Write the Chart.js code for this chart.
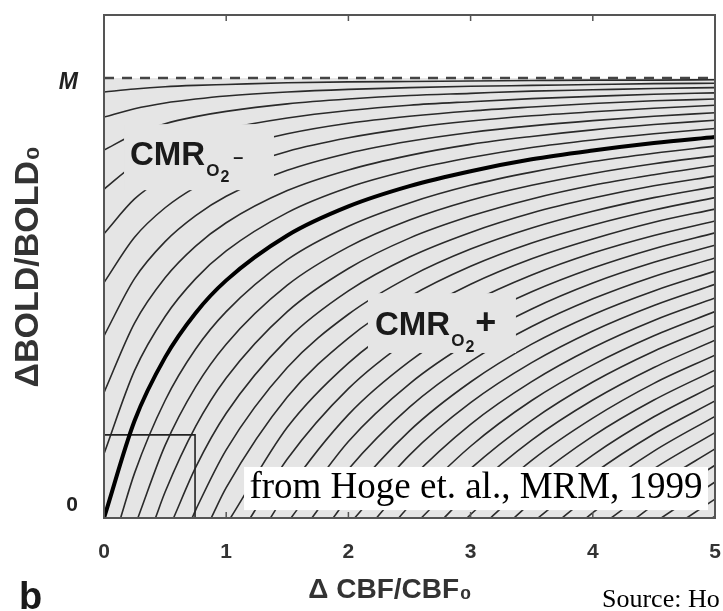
<!DOCTYPE html>
<html>
<head>
<meta charset="utf-8">
<script src="https://cdn.jsdelivr.net/npm/chart.js@4.4.1/dist/chart.umd.min.js"></script>
<style>
html,body{margin:0;padding:0;background:#fff;overflow:hidden}
canvas{display:block}
</style>
</head>
<body>
<canvas id="c" width="723" height="611"></canvas>
<script>
// x positions (ΔCBF/CBF0) at which the contours were read
const xGrid = [0, 0.25, 0.5, 0.75, 1, 1.5, 2, 2.5, 3, 3.5, 4, 4.5, 5];

// iso-CMRO2 contours above the thick line (CMRO2 decrease), ΔBOLD/BOLD0 in units of M
const cmro010 = [0.968, 0.975, 0.980, 0.983, 0.985, 0.989, 0.991, 0.992, 0.993, 0.994, 0.995, 0.995, 0.996];
const cmro020 = [0.911, 0.930, 0.943, 0.952, 0.959, 0.968, 0.974, 0.978, 0.981, 0.983, 0.985, 0.987, 0.988];
const cmro030 = [0.836, 0.872, 0.896, 0.912, 0.924, 0.941, 0.952, 0.960, 0.965, 0.970, 0.973, 0.976, 0.978];
const cmro040 = [0.747, 0.803, 0.839, 0.865, 0.884, 0.909, 0.926, 0.938, 0.946, 0.953, 0.958, 0.963, 0.966];
const cmro050 = [0.646, 0.725, 0.775, 0.811, 0.837, 0.873, 0.897, 0.913, 0.925, 0.934, 0.942, 0.948, 0.952];
const cmro060 = [0.535, 0.638, 0.705, 0.752, 0.786, 0.833, 0.864, 0.886, 0.902, 0.914, 0.923, 0.931, 0.938];
const cmro070 = [0.414, 0.544, 0.628, 0.687, 0.731, 0.790, 0.829, 0.856, 0.876, 0.891, 0.903, 0.913, 0.921];
const cmro080 = [0.285, 0.443, 0.546, 0.618, 0.671, 0.744, 0.791, 0.824, 0.849, 0.867, 0.882, 0.894, 0.904];
const cmro090 = [0.146, 0.335, 0.458, 0.544, 0.607, 0.694, 0.751, 0.790, 0.819, 0.842, 0.859, 0.873, 0.885];

// thick line: constant CMRO2
const cmro100 = [0, 0.221, 0.365, 0.466, 0.540, 0.642, 0.708, 0.754, 0.788, 0.815, 0.835, 0.852, 0.866];

// iso-CMRO2 contours below the thick line (CMRO2 increase):
// where each leaves the zero line, then its values at the xGrid points beyond that
const risingStarts = [0.136, 0.277, 0.421, 0.569, 0.721, 0.877, 1.035, 1.197, 1.362, 1.530,
                      1.701, 1.875, 2.051, 2.230, 2.412, 2.596, 2.782, 2.971, 3.162, 3.355,
                      3.551, 3.748, 3.948, 4.150, 4.354, 4.560, 4.768, 4.977];
const cmro110 = [0.102, 0.267, 0.384, 0.469, 0.587, 0.663, 0.716, 0.756, 0.786, 0.810, 0.829, 0.845];
const cmro120 = [0.165, 0.298, 0.395, 0.529, 0.616, 0.677, 0.722, 0.756, 0.783, 0.805, 0.823];
const cmro130 = [0.059, 0.208, 0.318, 0.469, 0.567, 0.636, 0.686, 0.725, 0.756, 0.780, 0.801];
const cmro140 = [0.115, 0.238, 0.406, 0.516, 0.593, 0.649, 0.693, 0.727, 0.755, 0.777];
const cmro150 = [0.018, 0.155, 0.342, 0.463, 0.548, 0.611, 0.659, 0.697, 0.728, 0.753];
const cmro160 = [0.069, 0.275, 0.409, 0.503, 0.572, 0.625, 0.666, 0.700, 0.728];
const cmro170 = [0.206, 0.352, 0.455, 0.531, 0.589, 0.634, 0.672, 0.702];
const cmro180 = [0.134, 0.294, 0.406, 0.489, 0.552, 0.602, 0.642, 0.675];
const cmro190 = [0.061, 0.235, 0.356, 0.446, 0.514, 0.568, 0.612, 0.648];
const cmro200 = [0.174, 0.305, 0.401, 0.475, 0.534, 0.581, 0.620];
const cmro210 = [0.111, 0.252, 0.356, 0.435, 0.498, 0.549, 0.591];
const cmro220 = [0.047, 0.198, 0.309, 0.395, 0.462, 0.516, 0.561];
const cmro230 = [0.143, 0.262, 0.353, 0.425, 0.483, 0.531];
const cmro240 = [0.086, 0.213, 0.310, 0.387, 0.449, 0.500];
const cmro250 = [0.028, 0.163, 0.267, 0.348, 0.414, 0.469];
const cmro260 = [0.112, 0.222, 0.309, 0.379, 0.437];
const cmro270 = [0.061, 0.177, 0.268, 0.342, 0.404];
const cmro280 = [0.008, 0.131, 0.227, 0.306, 0.370];
const cmro290 = [0.084, 0.186, 0.268, 0.336];
const cmro300 = [0.036, 0.143, 0.230, 0.302];
const cmro310 = [0.100, 0.191, 0.266];
const cmro320 = [0.056, 0.152, 0.231];
const cmro330 = [0.012, 0.112, 0.194];
const cmro340 = [0.071, 0.157];
const cmro350 = [0.030, 0.120];
const cmro360 = [0.082];
const cmro370 = [0.043];
const cmro380 = [0.004];

const mValue = 1;                       // dashed asymptote M
const zoomBoxX = [0, 0.745, 0.745];     // small inset rectangle
const zoomBoxY = [0.189, 0.189, 0];
const xTicks = [0, 1, 2, 3, 4, 5];
const yTickValues = [0.03, 0.99];
const yTickLabels = ['0', 'M'];

const fallingCurves = [cmro010, cmro020, cmro030, cmro040, cmro050, cmro060, cmro070, cmro080, cmro090];
const risingCurves = [cmro110, cmro120, cmro130, cmro140, cmro150, cmro160, cmro170, cmro180, cmro190, cmro200,
                      cmro210, cmro220, cmro230, cmro240, cmro250, cmro260, cmro270, cmro280, cmro290, cmro300,
                      cmro310, cmro320, cmro330, cmro340, cmro350, cmro360, cmro370, cmro380];

const SANS = '"Liberation Sans", Arial, Helvetica, sans-serif';
const SERIF = '"Liberation Serif", "Times New Roman", serif';
const LINE = '#2a2a2a';

const datasets = [];
datasets.push({
  label: 'M',
  data: [{x: xGrid[0], y: mValue}, {x: xGrid[xGrid.length - 1], y: mValue}],
  borderColor: '#444', borderWidth: 2.5, borderDash: [10, 8],
  fill: 'origin', backgroundColor: '#e5e5e5',
  cubicInterpolationMode: 'default', tension: 0, order: 0
});
datasets.push({
  label: 'CMRO2 constant',
  data: xGrid.map((x, i) => ({x, y: cmro100[i]})),
  borderColor: '#000', borderWidth: 4, fill: false, order: 0
});
fallingCurves.forEach((arr, k) => {
  datasets.push({
    label: 'CMRO2 ' + ((k + 1) / 10).toFixed(1),
    data: xGrid.map((x, i) => ({x, y: arr[i]})),
    borderColor: LINE, borderWidth: 1.6, fill: false, order: 2
  });
});
risingCurves.forEach((arr, k) => {
  const x0 = risingStarts[k];
  const xs = xGrid.filter(x => x > x0);
  datasets.push({
    label: 'CMRO2 ' + ((k + 11) / 10).toFixed(1),
    data: [{x: x0, y: 0}].concat(arr.map((y, i) => ({x: xs[i], y}))),
    borderColor: LINE, borderWidth: 1.6, fill: false, order: 2
  });
});
datasets.push({
  label: 'inset',
  data: zoomBoxX.map((x, i) => ({x, y: zoomBoxY[i]})),
  borderColor: '#222', borderWidth: 1.6, fill: false,
  cubicInterpolationMode: 'default', tension: 0, order: 1
});

function cmroLabel(ctx, x, y, sign) {
  ctx.fillStyle = '#1a1a1a';
  ctx.textAlign = 'left';
  ctx.textBaseline = 'alphabetic';
  ctx.font = 'bold 33px ' + SANS;
  ctx.fillText('CMR', x, y);
  let cx = x + ctx.measureText('CMR').width + 1;
  ctx.font = 'bold 17px ' + SANS;
  ctx.fillText('O', cx, y + 11);
  cx += ctx.measureText('O').width + 1;
  ctx.font = 'bold 16px ' + SANS;
  ctx.fillText('2', cx, y + 17);
  cx += ctx.measureText('2').width;
  if (sign === '+') {
    ctx.font = 'bold 36px ' + SANS;
    ctx.fillText('+', cx + 1, y - 1);
  } else {
    ctx.font = 'bold 18px ' + SANS;
    ctx.fillText('\u2013', cx + 4, y - 2);
  }
}

function noPad(s) { s.paddingTop = 0; s.paddingBottom = 0; s.paddingLeft = 0; s.paddingRight = 0; }

const decor = {
  id: 'decor',
  afterDatasetsDraw(chart) {
    const {ctx, chartArea: a, scales: {x, y}} = chart;
    const px = v => x.getPixelForValue(v);
    const py = v => y.getPixelForValue(v);
    ctx.save();
    // cleared backgrounds behind the two region labels
    ctx.fillStyle = '#e5e5e5';
    ctx.fillRect(px(0.164), py(0.895), px(1.391) - px(0.164), py(0.745) - py(0.895));
    ctx.fillRect(px(2.160), py(0.511), px(3.371) - px(2.160), py(0.375) - py(0.511));
    cmroLabel(ctx, px(0.213), py(0.802), '-');
    cmroLabel(ctx, px(2.218), py(0.416), '+');
    // citation box
    ctx.fillStyle = '#fff';
    ctx.fillRect(px(1.146), py(0.116), px(4.943) - px(1.146), py(0.018) - py(0.116));
    ctx.fillStyle = '#000';
    ctx.font = '37px ' + SERIF;
    ctx.textAlign = 'left';
    ctx.textBaseline = 'alphabetic';
    ctx.fillText('from Hoge et. al., MRM, 1999', px(1.19), py(0.045));
    // frame and inner tick marks
    ctx.strokeStyle = '#555';
    ctx.lineWidth = 2;
    ctx.strokeRect(a.left, a.top, a.right - a.left, a.bottom - a.top);
    ctx.lineWidth = 1.5;
    ctx.beginPath();
    xTicks.slice(1, -1).forEach(v => {
      const p = px(v);
      ctx.moveTo(p, a.top); ctx.lineTo(p, a.top + 6);
      ctx.moveTo(p, a.bottom); ctx.lineTo(p, a.bottom - 6);
    });
    ctx.stroke();
    ctx.restore();
  },
  afterDraw(chart) {
    const {ctx} = chart;
    ctx.save();
    ctx.fillStyle = '#1a1a1a';
    ctx.textAlign = 'left';
    ctx.textBaseline = 'alphabetic';
    ctx.font = 'bold 38px ' + SANS;
    ctx.fillText('b', 19, 609);
    ctx.fillStyle = '#000';
    ctx.font = '26px ' + SERIF;
    ctx.fillText('Source: Ho', 602, 607);
    ctx.restore();
  }
};

new Chart(document.getElementById('c'), {
  type: 'line',
  data: {datasets},
  plugins: [decor],
  options: {
    responsive: false,
    animation: false,
    events: [],
    layout: {padding: {top: 15, right: 8, left: 0, bottom: 0}},
    elements: {point: {radius: 0}, line: {cubicInterpolationMode: 'monotone'}},
    plugins: {
      legend: {display: false},
      tooltip: {enabled: false},
      filler: {drawTime: 'beforeDatasetsDraw'}
    },
    scales: {
      x: {
        type: 'linear', min: 0, max: 5,
        afterFit: s => { s.height = 93; noPad(s); },
        afterBuildTicks: s => { s.ticks = xTicks.map(v => ({value: v})); },
        grid: {display: false},
        border: {display: false},
        ticks: {padding: 14, color: '#333', maxRotation: 0, autoSkip: false,
                font: {family: SANS, size: 21, weight: 'bold'},
                callback: v => String(v)},
        title: {display: true, text: '\u0394 CBF/CBF\u2080     ', color: '#333',
                font: {family: SANS, size: 28, weight: 'bold'}, padding: {top: 0, bottom: 4}}
      },
      y: {
        min: 0, max: 1.143,
        afterFit: s => { s.width = 104; noPad(s); },
        afterBuildTicks: s => { s.ticks = yTickValues.map(v => ({value: v})); },
        grid: {display: false},
        border: {display: false},
        ticks: {padding: 18, color: '#222', autoSkip: false,
                callback: (v, i) => yTickLabels[i],
                font: ctx => ({family: SANS, size: ctx.index === 1 ? 23 : 21, weight: 'bold',
                               style: ctx.index === 1 ? 'italic' : 'normal'})},
        title: {display: true, text: '\u0394BOLD/BOLD\u2080', color: '#333',
                font: {family: SANS, size: 34, weight: 'bold'}, padding: {top: 8, bottom: 0}}
      }
    }
  }
});
</script>
</body>
</html>
